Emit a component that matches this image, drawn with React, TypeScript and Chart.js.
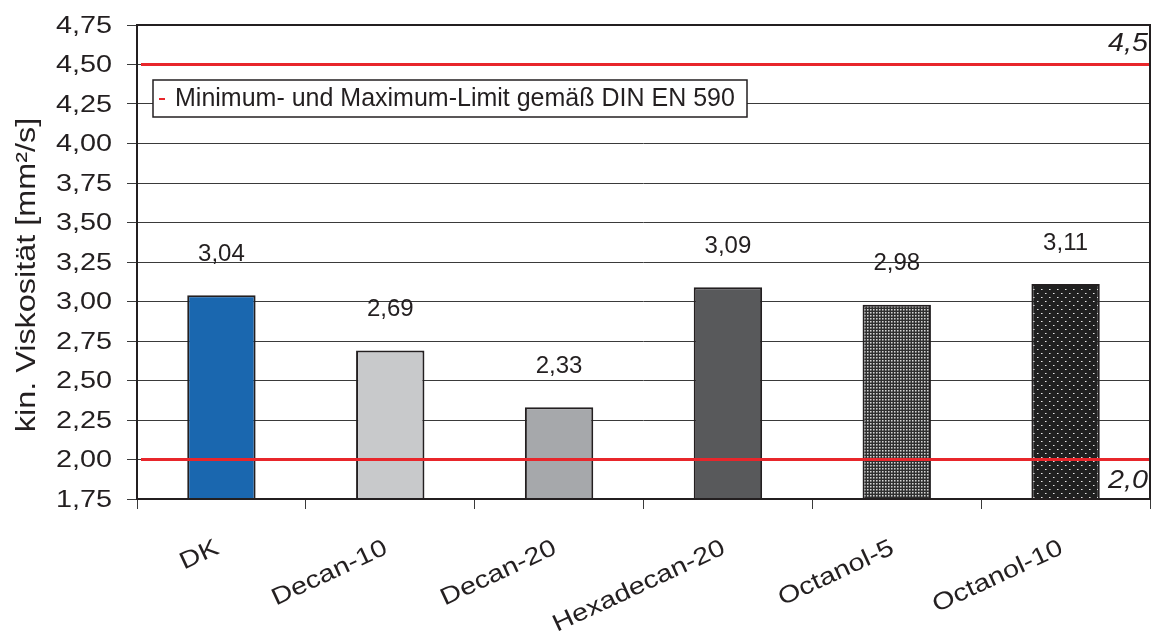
import React, { useEffect, useRef } from "react";
import { Chart, registerables } from "chart.js";

Chart.register(...registerables);

const categories = ["DK", "Decan-10", "Decan-20", "Hexadecan-20", "Octanol-5", "Octanol-10"];
const viscosity = [3.04, 2.69, 2.33, 3.09, 2.98, 3.11];
const valueLabels = ["3,04", "2,69", "2,33", "3,09", "2,98", "3,11"];
const limitValues = [4.5, 2.0];
const limitLabels = ["4,5", "2,0"];
const legendText = "Minimum- und Maximum-Limit gemäß DIN EN 590";
const yTitle = "kin. Viskosität [mm²/s]";
const yMin = 1.75;
const yMax = 4.75;
const yStep = 0.25;

const FONT = "'Liberation Sans', Arial, sans-serif";
const TEXT = "#231F20";
const RED = "#E8262B";
const STRETCH = 1.2;

function makePattern(size: number, bg: string, pixels: [number, number, string][]) {
  const c = document.createElement("canvas");
  c.width = size;
  c.height = size;
  const g = c.getContext("2d")!;
  g.fillStyle = bg;
  g.fillRect(0, 0, size, size);
  for (const [px, py, col] of pixels) {
    g.fillStyle = col;
    g.fillRect(px, py, 1, 1);
  }
  const ctx = document.createElement("canvas").getContext("2d")!;
  return ctx.createPattern(c, "repeat")!;
}

function fmt(v: number) {
  return v.toFixed(2).replace(".", ",");
}

export default function App() {
  const ref = useRef<HTMLCanvasElement | null>(null);

  useEffect(() => {
    document.body.style.margin = "0";
    const canvas = ref.current!;
    const fine = makePattern(3, "#2f2f2f", [
      [0, 0, "#d4d4d4"],
      [1, 0, "#8a8a8a"],
      [0, 1, "#8a8a8a"],
      [1, 1, "#5c5c5c"],
    ]);
    const coarse = makePattern(8, "#202020", [
      [1, 1, "#e6e6e6"],
      [2, 1, "#8a8a8a"],
      [5, 5, "#e6e6e6"],
      [6, 5, "#8a8a8a"],
    ]);
    const colors: any[] = ["#1A67AF", "#C8C9CB", "#A6A8AB", "#58595B", fine, coarse];

    const decor = {
      id: "decor",
      afterDatasetsDraw(chart: any) {
        const ctx = chart.ctx as CanvasRenderingContext2D;
        const a = chart.chartArea;
        const y = chart.scales.y;
        ctx.save();
        // frame
        ctx.strokeStyle = TEXT;
        ctx.lineWidth = 2;
        ctx.strokeRect(a.left, a.top, a.right - a.left, a.bottom - a.top);
        // limit lines
        limitValues.forEach((v, i) => {
          const py = y.getPixelForValue(v);
          ctx.strokeStyle = RED;
          ctx.lineWidth = 3;
          ctx.beginPath();
          ctx.moveTo(a.left + 4, py);
          ctx.lineTo(a.right - 1, py);
          ctx.stroke();
          ctx.save();
          ctx.fillStyle = TEXT;
          ctx.font = `italic 25px ${FONT}`;
          ctx.textAlign = "right";
          ctx.textBaseline = "middle";
          const above = i === 0;
          ctx.translate(a.right - 2, above ? py - 20 : py + 22);
          ctx.scale(1.15, 1);
          ctx.fillText(limitLabels[i], 0, 0);
          ctx.restore();
        });
        // data labels
        const meta = chart.getDatasetMeta(0);
        ctx.font = `24px ${FONT}`;
        ctx.fillStyle = TEXT;
        ctx.textAlign = "center";
        ctx.textBaseline = "middle";
        meta.data.forEach((bar: any, i: number) => {
          ctx.fillText(valueLabels[i], bar.x, bar.y - 41);
        });
        ctx.restore();
      },
      afterDraw(chart: any) {
        const ctx = chart.ctx as CanvasRenderingContext2D;
        const a = chart.chartArea;
        const xs = chart.scales.x;
        const ys = chart.scales.y;
        ctx.save();
        ctx.fillStyle = TEXT;
        // y tick labels
        ctx.font = `24px ${FONT}`;
        ctx.textAlign = "right";
        ctx.textBaseline = "middle";
        ys.ticks.forEach((t: any) => {
          const py = ys.getPixelForValue(t.value);
          ctx.save();
          ctx.translate(a.left - 25, py + 1);
          ctx.scale(STRETCH, 1);
          ctx.fillText(fmt(t.value), 0, 0);
          ctx.restore();
        });
        // x tick labels
        ctx.font = `24px ${FONT}`;
        ctx.textAlign = "right";
        ctx.textBaseline = "top";
        xs.getLabels().forEach((lab: string, i: number) => {
          const px = xs.getPixelForValue(i);
          ctx.save();
          ctx.translate(px - 9, a.bottom + 37);
          ctx.rotate((-25 * Math.PI) / 180);
          ctx.scale(STRETCH, 1);
          ctx.fillText(lab, 0, 0);
          ctx.restore();
        });
        // legend box
        const bx = a.left + 16;
        const by = a.top + 55;
        ctx.fillStyle = "#ffffff";
        ctx.fillRect(bx, by, 594, 37);
        ctx.strokeStyle = TEXT;
        ctx.lineWidth = 1.5;
        ctx.strokeRect(bx, by, 594, 37);
        ctx.fillStyle = RED;
        ctx.fillRect(bx + 6, by + 18, 6, 2);
        ctx.fillStyle = TEXT;
        ctx.font = `25px ${FONT}`;
        ctx.textAlign = "left";
        ctx.textBaseline = "middle";
        ctx.fillText(legendText, bx + 22, by + 19);
        // y title
        ctx.save();
        ctx.translate(28, (a.top + a.bottom) / 2 + 13);
        ctx.rotate(-Math.PI / 2);
        ctx.scale(STRETCH, 1);
        ctx.font = `27px ${FONT}`;
        ctx.textAlign = "center";
        ctx.textBaseline = "middle";
        ctx.fillText(yTitle, 0, 0);
        ctx.restore();
        ctx.restore();
      },
    };

    const chart = new Chart(canvas, {
      type: "bar",
      data: {
        labels: categories,
        datasets: [
          {
            data: viscosity,
            backgroundColor: colors,
            borderColor: TEXT,
            borderWidth: 2,
            barPercentage: 0.405,
            categoryPercentage: 1,
          },
        ],
      },
      options: {
        responsive: false,
        animation: false,
        events: [],
        layout: { padding: { left: 0, top: 25, right: 7, bottom: 0 } },
        plugins: { legend: { display: false }, tooltip: { enabled: false }, title: { display: false } },
        scales: {
          x: {
            offset: true,
            grid: {
              offset: true,
              drawOnChartArea: false,
              drawTicks: true,
              tickLength: 10,
              color: "#3a3a3a",
              lineWidth: 1,
            },
            border: { display: false },
            ticks: { display: false, autoSkip: false },
            afterFit(scale: any) {
              scale.height = 140;
            },
          },
          y: {
            min: yMin,
            max: yMax,
            grid: { color: "#3a3a3a", lineWidth: 1, tickLength: 10 },
            border: { display: false },
            ticks: { display: false, stepSize: yStep },
            afterFit(scale: any) {
              scale.width = 137;
            },
          },
        },
      },
      plugins: [decor],
    });
    return () => chart.destroy();
  }, []);

  return <canvas ref={ref} width={1157} height={639} style={{ display: "block", width: 1157, height: 639 }} />;
}
